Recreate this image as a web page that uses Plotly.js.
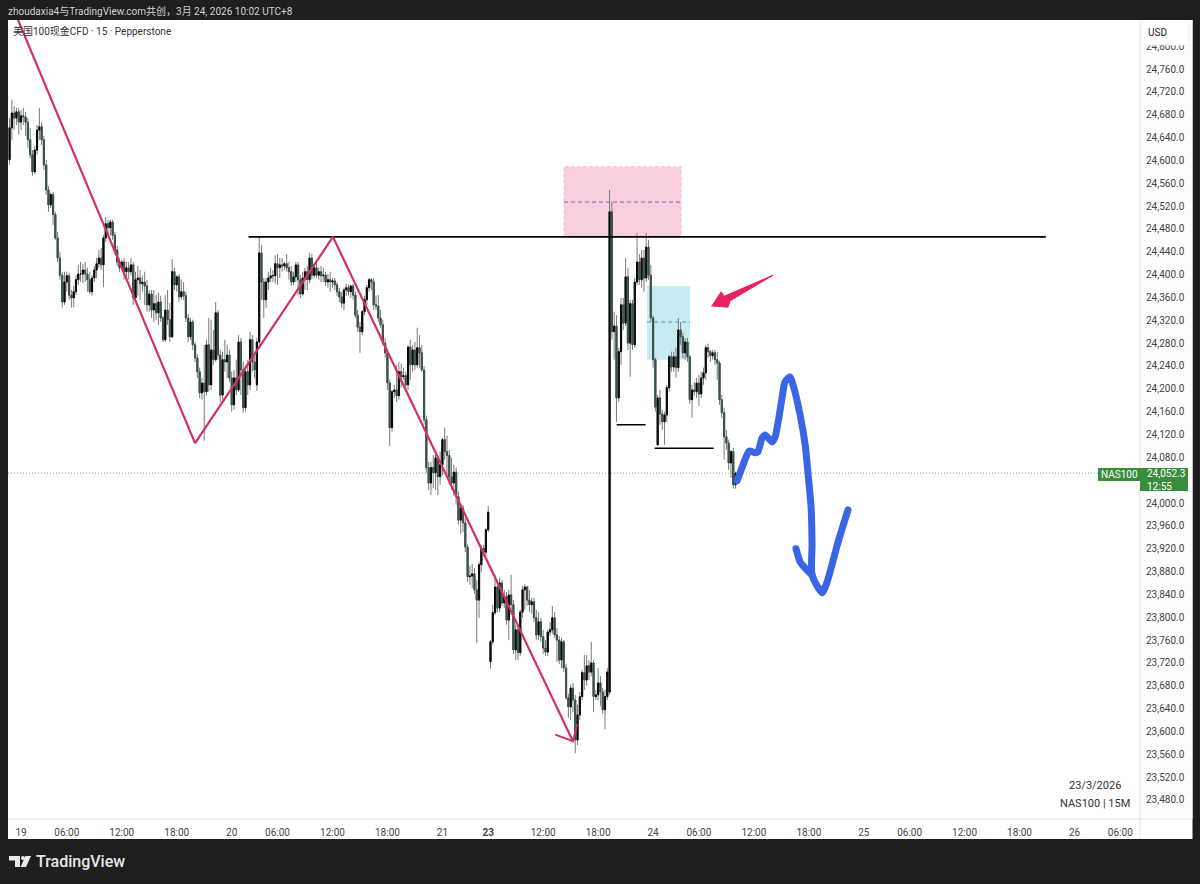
<!DOCTYPE html>
<html><head><meta charset="utf-8">
<script src="https://cdn.plot.ly/plotly-3.0.1.min.js"></script>
<style>html,body{margin:0;padding:0;background:#1e1e1e}#c{width:1200px;height:884px}
.scatterlayer .js-line{stroke-linecap:round}</style></head>
<body><div id="c"></div>
<script>
const firstSlot=-5;
const opens=[24601,24657,24683,24674,24685,24667,24678,24676,24667,24636,
24610,24580,24618,24653,24659,24636,24592,24548,24522,24540,
24505,24464,24429,24399,24352,24387,24398,24364,24359,24370,
24391,24401,24401,24408,24401,24391,24370,24394,24408,24419,
24429,24417,24464,24489,24482,24492,24469,24443,24422,24412,
24422,24405,24412,24405,24417,24359,24391,24394,24384,24387,
24380,24347,24366,24338,24349,24333,24352,24324,24286,24338,
24321,24291,24405,24382,24396,24361,24370,24363,24324,24291,
24317,24277,24254,24230,24193,24210,24195,24277,24207,24268,
24251,24333,24259,24189,24251,24247,24259,24219,24172,24219,
24198,24282,24233,24167,24230,24207,24286,24247,24207,24282,
24438,24387,24356,24387,24394,24398,24398,24419,24412,24417,
24415,24419,24412,24405,24387,24396,24417,24391,24366,24394,
24405,24391,24429,24399,24412,24399,24405,24398,24399,24387,
24391,24387,24389,24382,24370,24361,24350,24373,24377,24370,
24380,24364,24329,24308,24300,24335,24356,24377,24391,24387,
24347,24345,24324,24312,24280,24263,24210,24132,24195,24198,
24188,24230,24221,24223,24207,24273,24242,24268,24242,24272,
24263,24233,24146,24062,24035,24062,24053,24079,24046,24067,
24111,24090,24083,24046,24035,24054,24011,23970,23991,23965,
23923,23871,23872,23876,23848,23830,23892,23921,23914,23953,
23722,23757,23808,23853,23816,23860,23825,23836,23795,23839,
23822,23743,23778,23738,23809,23848,23853,23830,23822,23827,
23799,23769,23792,23766,23746,23739,23774,23778,23799,
23769,23760,23725,23757,23711,23659,23643,23676,23655,23585,
23629,23661,23703,23690,23715,23704,23720,23661,23664,23685,
23669,23638,23661,23669,24510,24300,24310,24184,24265,24347,
24315,24396,24280,24349,24277,24387,24422,24391,24429,24394,
24448,24399,24324,24251,24102,24184,24156,24142,24154,24202,
24256,24238,24256,24237,24303,24291,24263,24282,24256,24181,
24198,24195,24210,24191,24219,24228,24272,24265,24258,24263,
24251,24245,24181,24158,24116,24105,24070,24090,24032];
const highs=[24674,24706,24695,24692,24692,24688,24692,24685,24674,24657,
24618,24625,24662,24692,24667,24643,24601,24555,24543,24545,
24510,24475,24440,24405,24405,24405,24403,24373,24380,24399,
24417,24422,24419,24422,24412,24405,24399,24415,24429,24443,
24447,24469,24501,24496,24496,24496,24475,24450,24429,24426,
24429,24422,24422,24429,24422,24405,24415,24408,24398,24405,
24391,24373,24373,24373,24364,24368,24363,24328,24364,24373,
24350,24427,24412,24399,24401,24391,24387,24370,24331,24324,
24321,24282,24261,24237,24219,24277,24286,24324,24321,24303,
24352,24338,24268,24265,24286,24277,24268,24230,24233,24251,
24294,24289,24247,24237,24251,24300,24294,24265,24289,24466,
24452,24394,24394,24405,24412,24408,24434,24436,24429,24429,
24422,24436,24422,24415,24405,24422,24422,24399,24405,24412,
24415,24438,24436,24419,24422,24412,24415,24412,24405,24401,
24405,24394,24394,24387,24377,24370,24377,24384,24382,24382,
24384,24370,24338,24317,24338,24363,24382,24394,24394,24394,
24363,24364,24338,24321,24289,24268,24216,24198,24207,24242,
24247,24244,24237,24230,24277,24286,24277,24282,24307,24294,
24277,24240,24153,24072,24072,24084,24090,24084,24090,24114,
24132,24118,24093,24079,24067,24062,24020,23998,23997,23974,
23928,23890,23893,23886,23865,23897,23925,23927,23956,23995,
23760,23822,23874,23860,23869,23865,23848,23844,23848,23874,
23830,23787,23785,23813,23855,23858,23855,23848,23834,23834,
23813,23809,23799,23778,23760,23778,23792,23820,23809,
23781,23767,23764,23760,23718,23666,23682,23685,23664,23647,
23669,23708,23734,23734,23725,23757,23725,23673,23711,23697,
23676,23673,23711,24548,24527,24335,24329,24272,24359,24359,
24429,24412,24356,24356,24394,24473,24436,24443,24443,24473,
24461,24417,24328,24254,24189,24198,24163,24160,24207,24259,
24265,24265,24272,24324,24317,24298,24289,24289,24259,24207,
24212,24219,24224,24230,24237,24277,24279,24268,24268,24268,
24265,24249,24189,24167,24128,24111,24093,24097,24055];
const lows=[24592,24636,24653,24662,24645,24653,24662,24643,24622,24604,
24573,24576,24610,24636,24627,24583,24540,24510,24517,24487,
24461,24422,24391,24342,24347,24370,24356,24342,24343,24364,
24382,24387,24385,24387,24370,24366,24363,24387,24394,24412,
24408,24378,24457,24469,24468,24461,24436,24415,24405,24408,
24391,24394,24391,24398,24347,24352,24363,24356,24370,24347,
24335,24335,24324,24317,24321,24312,24317,24282,24282,24312,
24282,24289,24373,24370,24352,24356,24356,24317,24282,24286,
24268,24247,24219,24184,24181,24109,24188,24195,24198,24242,
24247,24251,24177,24181,24230,24219,24212,24160,24163,24189,
24195,24189,24158,24160,24189,24198,24230,24219,24196,24277,
24356,24324,24342,24373,24387,24387,24384,24382,24394,24405,
24408,24405,24391,24380,24382,24387,24364,24359,24363,24373,
24373,24385,24392,24394,24394,24391,24387,24387,24380,24377,
24370,24377,24373,24363,24352,24342,24338,24363,24363,24359,
24356,24324,24300,24263,24294,24329,24347,24370,24373,24338,
24338,24317,24307,24275,24254,24198,24100,24125,24184,24177,
24181,24202,24216,24198,24198,24216,24230,24233,24237,24237,
24230,24137,24053,24023,24014,24026,24023,24014,24032,24049,
24076,24049,24032,24023,24012,23997,23962,23946,23949,23914,
23862,23857,23851,23841,23755,23799,23879,23907,23907,23949,
23710,23752,23804,23809,23809,23820,23816,23787,23760,23804,
23736,23725,23725,23732,23799,23813,23820,23809,23806,23792,
23760,23760,23757,23736,23732,23732,23767,23771,23764,
23722,23718,23711,23704,23655,23624,23620,23634,23562,23576,
23620,23655,23673,23680,23690,23697,23634,23655,23655,23645,
23631,23604,23655,23664,24286,24251,24142,24177,24242,24303,
24310,24268,24221,24268,24272,24382,24382,24377,24370,24387,
24391,24317,24237,24160,24100,24137,24128,24102,24142,24195,
24230,24230,24219,24230,24277,24254,24251,24247,24174,24149,
24188,24184,24170,24184,24207,24216,24254,24247,24251,24242,
24216,24172,24149,24076,24093,24058,24044,24025,24025];
const closes=[24657,24683,24674,24685,24667,24678,24676,24667,24636,24610,
24580,24618,24653,24659,24636,24592,24548,24522,24540,24505,
24464,24429,24399,24352,24387,24398,24364,24359,24370,24391,
24401,24401,24408,24401,24391,24370,24394,24408,24419,24429,
24417,24464,24489,24482,24492,24469,24443,24422,24412,24422,
24405,24412,24405,24417,24359,24391,24394,24384,24387,24380,
24347,24366,24338,24349,24333,24352,24324,24286,24338,24321,
24291,24405,24382,24396,24361,24370,24363,24324,24291,24317,
24277,24254,24230,24193,24210,24195,24277,24207,24268,24251,
24333,24259,24189,24251,24247,24259,24219,24172,24219,24198,
24282,24233,24167,24230,24207,24286,24247,24233,24282,24438,
24387,24356,24387,24394,24398,24398,24419,24412,24417,24415,
24419,24412,24405,24387,24396,24417,24391,24366,24394,24405,
24391,24429,24399,24412,24399,24405,24398,24399,24387,24391,
24387,24389,24382,24370,24361,24350,24373,24377,24370,24380,
24364,24329,24308,24300,24335,24356,24377,24391,24387,24347,
24345,24324,24312,24280,24263,24210,24132,24195,24198,24188,
24230,24221,24223,24207,24273,24242,24268,24242,24272,24263,
24233,24146,24062,24035,24062,24053,24079,24046,24067,24111,
24090,24083,24046,24035,24054,24011,23970,23991,23965,23923,
23871,23872,23876,23848,23830,23892,23921,23914,23953,23984,
23757,23808,23853,23816,23860,23825,23836,23795,23839,23822,
23743,23778,23738,23809,23848,23853,23830,23822,23827,23799,
23769,23792,23766,23746,23739,23774,23778,23799,23769,
23760,23725,23757,23711,23659,23643,23676,23655,23585,23629,
23661,23703,23690,23715,23704,23720,23661,23664,23685,23669,
23638,23661,23704,24510,24300,24310,24184,24265,24347,24315,
24396,24280,24349,24277,24387,24422,24391,24429,24394,24448,
24399,24324,24251,24168,24184,24156,24142,24154,24202,24256,
24238,24256,24237,24303,24291,24263,24282,24256,24181,24198,
24195,24210,24191,24219,24228,24272,24265,24258,24263,24251,
24245,24181,24158,24116,24105,24070,24090,24032,24052.3];

const timeSlots=[0,20,44,68,92,112,136,160,184,204,228,252,276,296,320,344,368,388,412,436,460,480];
const timeLabels=["19","06:00","12:00","18:00","20","06:00","12:00","18:00","21","<b>23</b>","12:00","18:00","24","06:00","12:00","18:00","25","06:00","12:00","18:00","26","06:00"];
const priceTicks=[23480,23520,23560,23600,23640,23680,23720,23760,23800,23840,23880,23920,23960,24000,24080,24120,24160,24200,24240,24280,24320,24360,24400,24440,24480,24520,24560,24600,24640,24680,24720,24760,24800];

// drawings on the chart (bar slot, price)
const zigzagSlots=[-3.7,76,136.2,241];
const zigzagPrices=[24869,24105,24466,23583];
const barbSlots=[233.6,241,242.8];
const barbPrices=[23594,23583,23612];
const levelSlots=[99.6,447.2];
const levelPrice=24466;
const lowASlots=[260.3,272.5];
const lowAPrice=24137;
const lowBSlots=[276.9,302.2];
const lowBPrice=24096;
const pinkZone={x0:237.1,x1:288.2,top:24589,mid:24527,bottom:24466};
const cyanZone={x0:273.4,x1:292.1,top:24380,mid:24317,bottom:24251};
const pointerSlots=[301.7,305.7,307,328.4,309.6,308.7,301.7];
const pointerPrices=[24345,24370,24362,24399,24354,24343,24345];
const blueSlots=[312.7,315.3,317.9,320.5,321.8,323.6,324.9,328,329.3,330.6,332.3,333.6,335.8,337.1,340.2,342.4,343.7,345,345.4,345.4,349.8,352,356.8,361.1];
const bluePrices=[24039,24067,24091,24088,24090,24114,24119,24107,24116,24142,24184,24212,24221,24207,24154,24102,24049,23992,23927,23874,23843,23862,23932,23988];
const blueBarbSlots=[338.4,340.2,342.4,345.4];
const blueBarbPrices=[23920,23897,23886,23874];
const lastPrice=24052.3;

const W=1200,H=884,L=8,R=1140,T=20,B=819;
const px=x=>(x-L)/(R-L), py=y=>1-(y-T)/(B-T);
const FONT='Roboto, "Noto Sans CJK SC", sans-serif';
const slots=opens.map((_,i)=>i+firstSlot);
const bodyHi=opens.map((o,i)=>Math.max(o,closes[i]));
const bodyLo=opens.map((o,i)=>Math.min(o,closes[i]));
const GREEN='#388e3c';

function rectPx(x0,y0,x1,y1,fill,layer,lineColor){
  return {type:'rect',xref:'paper',yref:'paper',x0:px(x0),x1:px(x1),y0:py(y1),y1:py(y0),fillcolor:fill,
    line:{width:lineColor?1:0,color:lineColor||fill},layer:layer};
}
function pathPx(pts,fill){
  const d=pts.map((p,i)=>(i?'L':'M')+px(p[0])+' '+py(p[1])).join(' ')+' Z';
  return {type:'path',xref:'paper',yref:'paper',path:d,fillcolor:fill,line:{width:0},layer:'above'};
}
function textPx(x,y,text,size,color,anchor,extra){
  return Object.assign({xref:'paper',yref:'paper',x:px(x),y:py(y),text:text,showarrow:false,
    xanchor:anchor||'left',yanchor:'middle',font:{family:FONT,size:size,color:color}},extra||{});
}

const traces=[
 {type:'candlestick',x:slots,open:opens,high:highs,low:lows,close:closes,width:0.75,whiskerwidth:0,hoverinfo:'skip',showlegend:false,
  increasing:{line:{color:'#7a7a7a',width:1},fillcolor:'#7a7a7a'},decreasing:{line:{color:'#7a7a7a',width:1},fillcolor:'#7a7a7a'}},
 {type:'candlestick',x:slots,open:opens,high:bodyHi,low:bodyLo,close:closes,width:0.75,whiskerwidth:0,hoverinfo:'skip',showlegend:false,
  increasing:{line:{color:'#0a0a0a',width:1},fillcolor:'#0a0a0a'},decreasing:{line:{color:'#3a5546',width:1},fillcolor:'#3a5546'}},
 {type:'scatter',mode:'lines',x:levelSlots,y:levelSlots.map(()=>levelPrice),line:{color:'#000',width:1.6},hoverinfo:'skip',showlegend:false},
 {type:'scatter',mode:'lines',x:lowASlots,y:lowASlots.map(()=>lowAPrice),line:{color:'#000',width:1.4},hoverinfo:'skip',showlegend:false},
 {type:'scatter',mode:'lines',x:lowBSlots,y:lowBSlots.map(()=>lowBPrice),line:{color:'#000',width:1.4},hoverinfo:'skip',showlegend:false},
 {type:'scatter',mode:'lines',x:zigzagSlots,y:zigzagPrices,line:{color:'#d42f68',width:2.2},hoverinfo:'skip',showlegend:false},
 {type:'scatter',mode:'lines',x:barbSlots,y:barbPrices,line:{color:'#d42f68',width:2},hoverinfo:'skip',showlegend:false},
 {type:'scatter',mode:'lines',x:pointerSlots,y:pointerPrices,fill:'toself',fillcolor:'#e8225f',line:{color:'#e8225f',width:1},hoverinfo:'skip',showlegend:false},
 {type:'scatter',mode:'lines',x:blueSlots,y:bluePrices,line:{color:'#3a66e6',width:7,shape:'spline',smoothing:0.6},hoverinfo:'skip',showlegend:false},
 {type:'scatter',mode:'lines',x:blueBarbSlots,y:blueBarbPrices,line:{color:'#3a66e6',width:7,shape:'spline',smoothing:0.6},hoverinfo:'skip',showlegend:false}
];

const shapes=[
 rectPx(8,20,1192.5,839,'#ffffff','below'),
 rectPx(1140,20,1192.5,819,'#fdfdfd','below'),
 {type:'line',xref:'paper',yref:'paper',x0:px(1140),x1:px(1140),y0:py(20),y1:py(839),line:{color:'#e3e5ea',width:1},layer:'below'},
 {type:'line',xref:'paper',yref:'paper',x0:px(8),x1:px(1192),y0:py(819),y1:py(819),line:{color:'#e3e5ea',width:1},layer:'below'},
 {type:'rect',x0:pinkZone.x0,x1:pinkZone.x1,y0:pinkZone.bottom,y1:pinkZone.top,fillcolor:'#f9cfe0',line:{color:'#f5bcd3',width:1,dash:'3px,3px'},layer:'below'},
 {type:'line',x0:pinkZone.x0,x1:pinkZone.x1,y0:pinkZone.mid,y1:pinkZone.mid,line:{color:'#8e5ea8',width:1,dash:'4px,3px'},layer:'below'},
 {type:'rect',x0:cyanZone.x0,x1:cyanZone.x1,y0:cyanZone.bottom,y1:cyanZone.top,fillcolor:'#c6ecf3',line:{width:0},layer:'below'},
 {type:'line',x0:cyanZone.x0,x1:cyanZone.x1,y0:cyanZone.mid,y1:cyanZone.mid,line:{color:'#5f8f9f',width:1,dash:'4px,3px'},layer:'below'},
 {type:'line',xref:'paper',x0:0,x1:px(1098),y0:lastPrice,y1:lastPrice,line:{color:'#8fae92',width:1,dash:'1px,2px'},layer:'below'},
 rectPx(1142,22,1189,45,'#ffffff','above','#f0f2f6'),
 rectPx(1098,468,1140,481,GREEN,'above'),
 rectPx(1140,468,1188,491,GREEN,'above'),
 // TradingView logo
 pathPx([[9,856],[20,856],[20,867],[15,867],[15,860.5],[9,860.5]],'#e8e8e8'),
 pathPx([[25.5,856],[31,856],[26,867],[20.5,867]],'#e8e8e8'),
 {type:'circle',xref:'paper',yref:'paper',x0:px(21),x1:px(25),y0:py(860.2),y1:py(856),fillcolor:'#e8e8e8',line:{width:0},layer:'above'}
];

const annotations=[
 textPx(6,11,'zhoudaxia4与TradingView.com共创，3月 24, 2026 10:02 UTC+8',10,'#d2d2d2'),
 textPx(11,31,'美国100现金CFD · 15 · Pepperstone',10,'#333333'),
 textPx(1158,32,'USD',10,'#222222','center'),
 textPx(1119,474.5,'NAS100',10,'#ffffff','center'),
 textPx(1145,479.5,'24,052.3<br>12:55',10,'#ffffff','left',{align:'left'}),
 textPx(1095,785,'23/3/2026',11,'#333333','center'),
 textPx(1095,803,'NAS100 | 15M',11,'#333333','center'),
 textPx(34,861,'TradingView',16,'#e8e8e8','left',{font:{family:FONT,size:16,color:'#e8e8e8',weight:500}})
];

const layout={
 width:W,height:H,margin:{l:L,r:W-R,t:T,b:H-B,pad:0},
 paper_bgcolor:'#1e1e1e',plot_bgcolor:'#ffffff',showlegend:false,dragmode:false,
 font:{family:FONT,size:10,color:'#333'},
 xaxis:{type:'linear',range:[-5.68,488.6],showgrid:false,zeroline:false,showline:false,
   rangeslider:{visible:false},tickmode:'array',tickvals:timeSlots,ticktext:timeLabels,
   ticks:'outside',ticklen:4,tickcolor:'rgba(0,0,0,0)',tickfont:{family:FONT,size:10,color:'#444'}},
 yaxis:{type:'linear',side:'right',range:[23446.7,24845.8],showgrid:false,zeroline:false,showline:false,
   tickmode:'array',tickvals:priceTicks,tickformat:',.1f',
   ticks:'outside',ticklen:3,tickcolor:'rgba(0,0,0,0)',tickfont:{family:FONT,size:10,color:'#444'}},
 shapes:shapes,annotations:annotations
};
Plotly.newPlot('c',traces,layout,{displayModeBar:false,staticPlot:true});
</script></body></html>
